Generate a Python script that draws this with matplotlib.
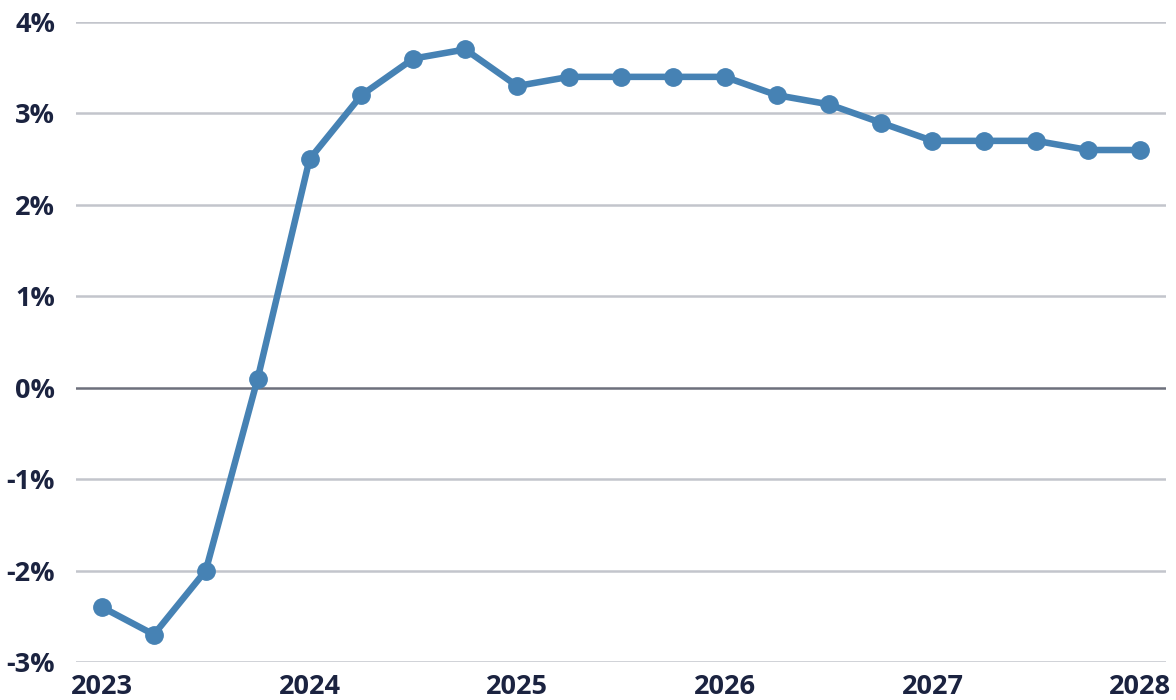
import matplotlib
matplotlib.use("Agg")
import matplotlib.pyplot as plt
from matplotlib.ticker import FuncFormatter

plt.rcParams['font.family'] = ['Open Sans', 'DejaVu Sans']

# quarterly values, 2023 Q1 .. 2028 Q1
quarters = list(range(21))
values = [-2.4, -2.7, -2.0, 0.1, 2.5, 3.2, 3.6, 3.7, 3.3, 3.4, 3.4, 3.4, 3.4,
          3.2, 3.1, 2.9, 2.7, 2.7, 2.7, 2.6, 2.6]
year_ticks = [0, 4, 8, 12, 16, 20]
year_labels = ['2023', '2024', '2025', '2026', '2027', '2028']
y_ticks = [-3, -2, -1, 0, 1, 2, 3, 4]

text_color = '#1b2340'
line_color = '#4682b4'

fig = plt.figure(figsize=(11.76, 7), dpi=100)
ax = fig.add_axes([76 / 1176, 1 - 662 / 700, (1166 - 76) / 1176, 640 / 700])

for y in y_ticks:
    if y == 0:
        ax.axhline(y, color='#6d707c', lw=1.8, zorder=1)
    else:
        ax.axhline(y, color='#c3c5cc', lw=1.8, zorder=1)

ax.plot(quarters, values, color=line_color, lw=4.7, marker='o', markersize=12.5,
        solid_capstyle='round', zorder=3, clip_on=False)

ax.set_xlim(-0.5, 20.5)
ax.set_ylim(-3, 4)
ax.set_yticks(y_ticks)
ax.yaxis.set_major_formatter(FuncFormatter(lambda v, p: f"{int(v)}%"))
ax.set_xticks(year_ticks)
ax.set_xticklabels(year_labels)

ax.tick_params(axis='both', length=0, labelsize=19.5, labelcolor=text_color)
ax.tick_params(axis='y', pad=15)
ax.tick_params(axis='x', pad=9)
for lab in ax.get_xticklabels() + ax.get_yticklabels():
    lab.set_fontweight('bold')

for s in ax.spines.values():
    s.set_visible(False)

fig.savefig('out.png', dpi=100)
